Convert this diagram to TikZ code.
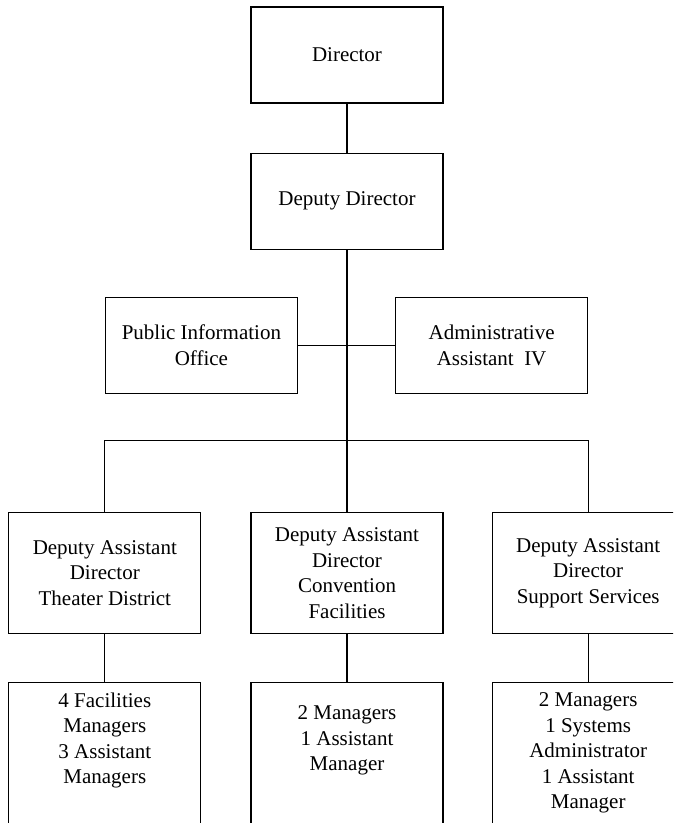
\documentclass[tikz,border=0pt]{standalone}
\usepackage{fontspec}
\setmainfont{Liberation Serif}
\usetikzlibrary{positioning}

\begin{document}
\begin{tikzpicture}[x=1pt, y=1pt,
        every node/.style={draw, line width=1.2pt, align=center, inner sep=2pt,
            minimum width=192pt, font=\fontsize{21}{25.5}\selectfont},
        office/.style={minimum height=96pt},
        division/.style={minimum height=121pt},
        staff/.style={minimum height=141pt},
        raised/.style={text depth=30pt},
        link/.style={line width=1.2pt}]

    \useasboundingbox (0,0) rectangle (673,-823);
    \clip (0,0) rectangle (673,-823);

    \node[office] (dir) at (347,-55) {Director};
    \node[office, below=49pt of dir] (dep) {Deputy Director};
    \node[office, below left=47pt and 49pt of dep.south] (pio) {Public Information\\Office};
    \node[office, below right=47pt and 48pt of dep.south] (aa4) {Administrative\\Assistant~~IV};

    \node[division, below=262pt of dep] (dadc) {Deputy Assistant\\Director\\Convention\\Facilities};
    \node[division, left=49pt of dadc] (dadt) {Deputy Assistant\\Director\\Theater District};
    \node[division, right=48pt of dadc] (dads) {Deputy Assistant\\Director\\Support Services};

    \node[staff, raised, below=48pt of dadt] (stft) {4 Facilities\\Managers\\3 Assistant\\Managers};
    \node[staff, raised, below=48pt of dadc] (stfc) {2 Managers\\1 Assistant\\Manager};
    \node[staff, below=48pt of dads] (stfs) {2 Managers\\1 Systems\\Administrator\\1 Assistant\\Manager};

    \path (dep.south) ++(0,-191) coordinate (bus);

    \draw[link] (dir) -- (dep);
    \draw[link] (dep) -- (dadc);
    \draw[link] (pio) -- (aa4);
    \draw[link] (dadt.north) |- (bus) -| (dads.north);
    \draw[link] (dadt) -- (stft);
    \draw[link] (dadc) -- (stfc);
    \draw[link] (dads) -- (stfs);
\end{tikzpicture}
\end{document}
